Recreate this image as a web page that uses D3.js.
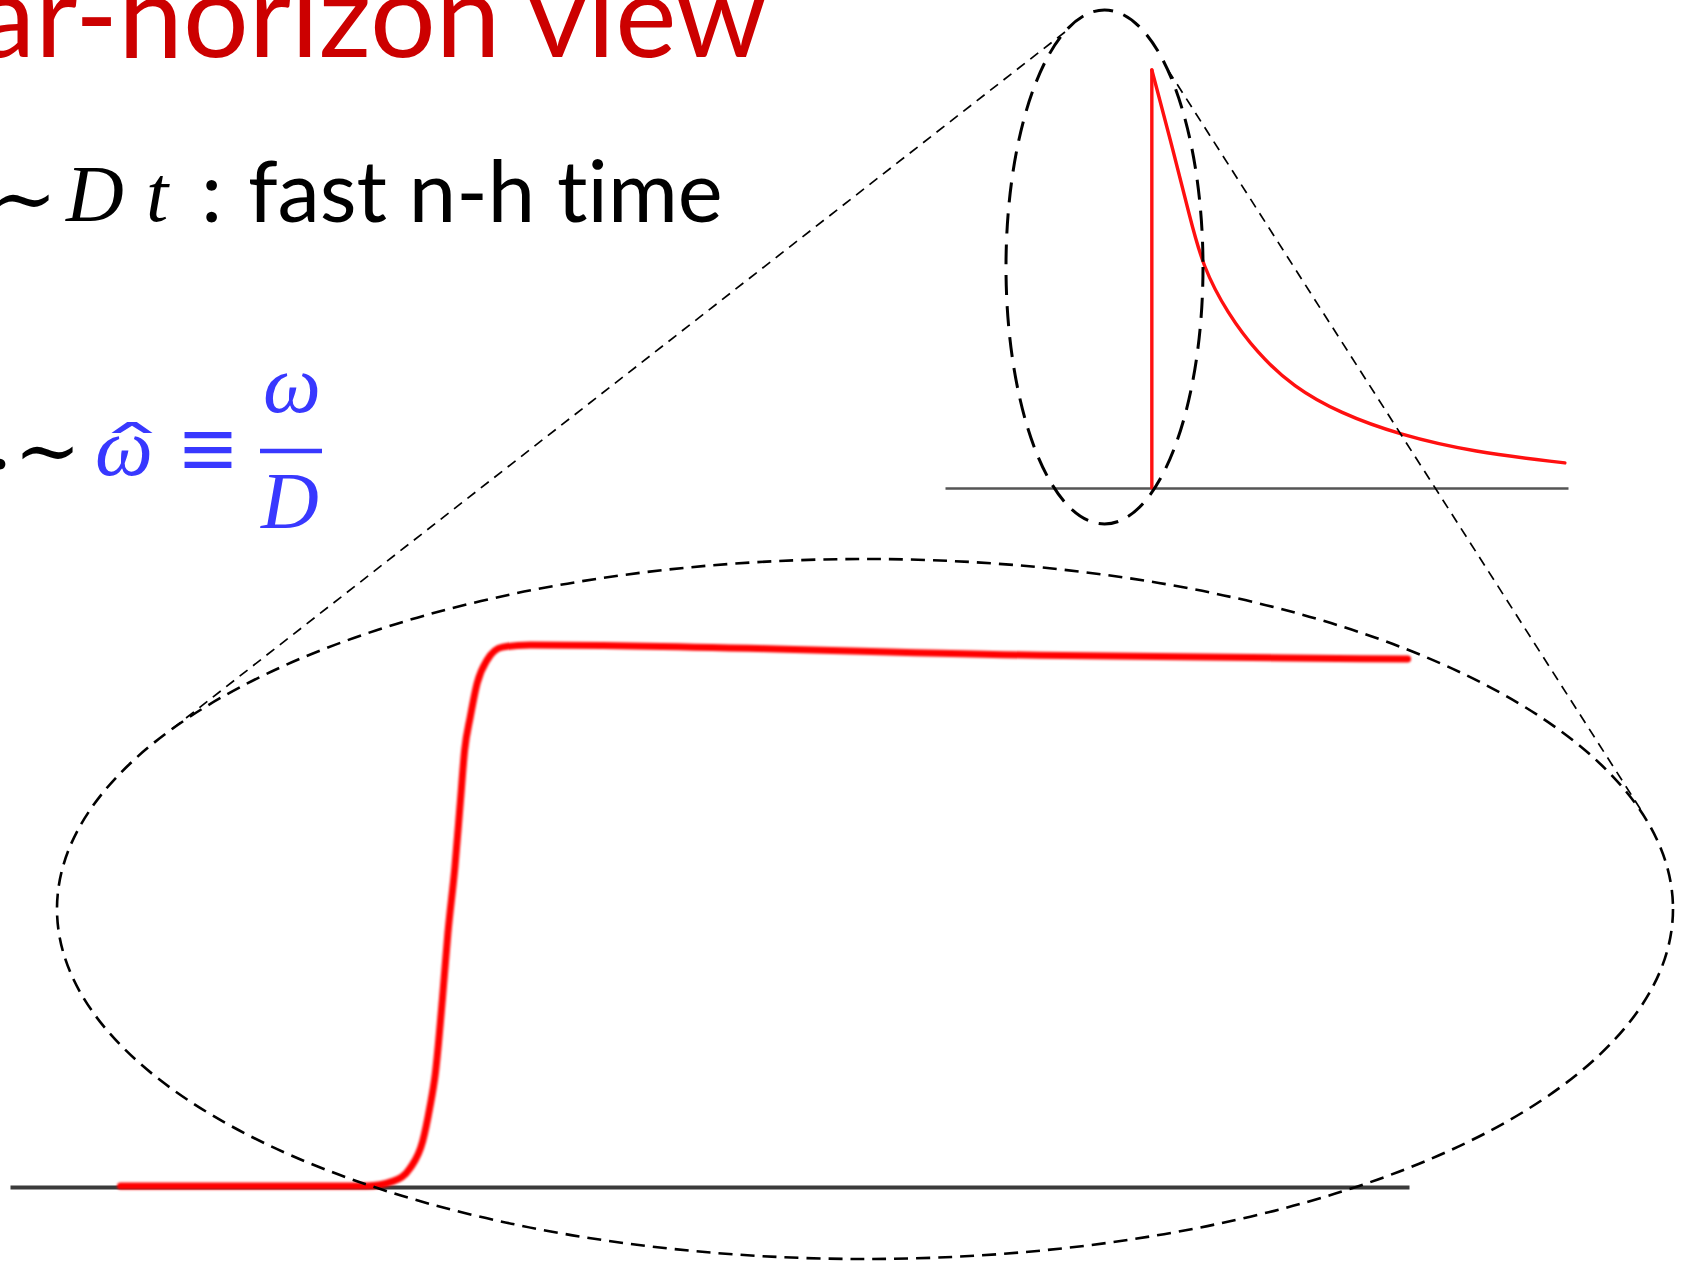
<!DOCTYPE html>
<html>
<head>
<meta charset="utf-8">
<script src="https://cdn.jsdelivr.net/npm/d3@7"></script>
<style>
  html, body { margin: 0; padding: 0; background: #fff; }
  svg { display: block; }
  text { font-variant-ligatures: none; font-feature-settings: "liga" 0; }
</style>
</head>
<body>
<div id="chart"></div>
<script>
// Near-horizon response: a sharp step (zoomed view) inside a pulse that decays (full view)

// Zoomed-in response: time and amplitude samples
const stepTime  = [7.9, 25.5, 27.4, 28.6, 29.5, 30.0, 30.4, 30.9, 31.3, 31.8, 32.2, 32.5, 32.9, 33.4, 34.1, 35.2, 37.2, 73.6, 99.9];
const stepValue = [0, 0, 0.009, 0.033, 0.083, 0.144, 0.207, 0.343, 0.467, 0.589, 0.713, 0.806, 0.867, 0.930, 0.972, 0.996, 1.0, 0.981, 0.974];

// Full view: onset time, then the decaying tail
const onsetTime  = 33.2;
const decayTime  = [33.2, 36.6, 39.3, 41.4, 45.3, 50.1, 55.9, 63.4, 73.0, 84.8, 99.5];
const decayValue = [1.0, 0.809, 0.648, 0.529, 0.419, 0.323, 0.242, 0.179, 0.127, 0.086, 0.060];

// Text
const titleText = "Near-horizon view";
const line2Text = "fast n-h time";

const W = 1687, H = 1262;
const svg = d3.select("#chart").append("svg")
  .attr("width", W).attr("height", H)
  .attr("viewBox", `0 0 ${W} ${H}`);

svg.append("rect").attr("width", W).attr("height", H).attr("fill", "#fff");

const defs = svg.append("defs");
defs.append("filter").attr("id", "soft")
  .attr("filterUnits", "userSpaceOnUse")
  .attr("x", 0).attr("y", 0).attr("width", W).attr("height", H)
  .append("feGaussianBlur").attr("stdDeviation", 0.9);

// ---------- Text block ----------
const red = "#cc0000", blue = "#3838ff";
const sans = "Lato, 'Open Sans', sans-serif";
const serif = "'Liberation Serif', 'DejaVu Serif', serif";

svg.append("text")
  .attr("x", 767).attr("y", 57)
  .attr("text-anchor", "end")
  .attr("font-family", sans).attr("font-size", 116)
  .attr("fill", red)
  .text(titleText);

// line 2:  ~ D t : fast n-h time
const l2 = svg.append("g").attr("fill", "#000");
l2.append("text").attr("x", -10).attr("y", 226)
  .attr("font-family", "'DejaVu Serif', serif").attr("font-size", 80)
  .text("\u223C");
l2.append("text").attr("x", 66).attr("y", 221)
  .attr("font-family", serif).attr("font-style", "italic").attr("font-size", 80)
  .text("D");
l2.append("text").attr("x", 146).attr("y", 221)
  .attr("font-family", serif).attr("font-style", "italic").attr("font-size", 80)
  .text("t");
l2.append("text").attr("x", 201).attr("y", 222)
  .attr("font-family", sans).attr("font-size", 85)
  .text(":");
l2.append("text").attr("x", 248).attr("y", 222)
  .attr("font-family", sans).attr("font-size", 85)
  .text(line2Text);

// line 3:  . ~ ω̂ ≡ ω / D
const l3 = svg.append("g");
l3.append("text").attr("x", -10).attr("y", 469)
  .attr("font-family", sans).attr("font-size", 85).attr("fill", "#000")
  .text(".");
l3.append("text").attr("x", 14).attr("y", 478)
  .attr("font-family", "'DejaVu Serif', serif").attr("font-size", 80).attr("fill", "#000")
  .text("\u223C");
l3.append("text").attr("x", 95).attr("y", 475)
  .attr("font-family", serif).attr("font-style", "italic").attr("font-size", 82).attr("fill", blue)
  .text("\u03C9");
// wide hat over ω
l3.append("text")
  .attr("transform", "translate(99,470) scale(2.2,1)")
  .attr("font-family", "'DejaVu Sans', sans-serif").attr("font-size", 60).attr("fill", blue)
  .text("\u02C6");
// identity sign
l3.append("text")
  .attr("x", 208).attr("y", 475)
  .attr("text-anchor", "middle")
  .attr("font-family", "'Noto Sans CJK JP', 'DejaVu Sans', sans-serif")
  .attr("font-size", 66).attr("font-weight", 700).attr("fill", blue)
  .text("\u2261");
l3.append("text").attr("x", 263).attr("y", 412)
  .attr("font-family", serif).attr("font-style", "italic").attr("font-size", 82).attr("fill", blue)
  .text("\u03C9");
l3.append("line").attr("x1", 260).attr("x2", 322).attr("y1", 451).attr("y2", 451)
  .attr("stroke", blue).attr("stroke-width", 4.5);
l3.append("text").attr("x", 261).attr("y", 528)
  .attr("font-family", serif).attr("font-style", "italic").attr("font-size", 80).attr("fill", blue)
  .text("D");

// ---------- Full view (top right) ----------
const xS = d3.scaleLinear().domain([0, 100]).range([945, 1568]);
const yS = d3.scaleLinear().domain([0, 1]).range([488, 70]);

const axS = svg.append("g").attr("transform", `translate(0,${yS(0)})`)
  .call(d3.axisBottom(xS).tickValues([]).tickSizeOuter(0));
axS.select(".domain").attr("stroke", "#555").attr("stroke-width", 2.5);

const redS = svg.append("g").attr("fill", "none").attr("stroke", "#ff1010")
  .attr("stroke-width", 3.4).attr("stroke-linecap", "round");
redS.append("line")
  .attr("x1", xS(onsetTime)).attr("x2", xS(onsetTime))
  .attr("y1", yS(0)).attr("y2", yS(1));
redS.append("path")
  .datum(decayTime.map((t, i) => [t, decayValue[i]]))
  .attr("d", d3.line().x(d => xS(d[0])).y(d => yS(d[1])).curve(d3.curveBasis));

// ---------- Zoomed view (bottom) ----------
const xB = d3.scaleLinear().domain([0, 100]).range([10, 1409]);
const yB = d3.scaleLinear().domain([0, 1]).range([1186, 645]);

const axB = svg.append("g").attr("transform", `translate(0,${yB(0) + 1})`)
  .call(d3.axisBottom(xB).tickValues([]).tickSizeOuter(0));
axB.select(".domain").attr("stroke", "#2a2a2a").attr("stroke-width", 4)
  .attr("stroke-opacity", 0.92);

svg.append("path")
  .datum(stepTime.map((t, i) => [t, stepValue[i]]))
  .attr("fill", "none").attr("stroke", "#ff0000").attr("stroke-width", 7)
  .attr("stroke-linecap", "round").attr("stroke-linejoin", "round")
  .attr("filter", "url(#soft)")
  .attr("d", d3.line().x(d => xB(d[0])).y(d => yB(d[1])).curve(d3.curveMonotoneX));

// ---------- Zoom callout: ellipses and connecting lines ----------
const callout = svg.append("g").attr("fill", "none").attr("stroke", "#000");
callout.append("ellipse")
  .attr("cx", 1104.5).attr("cy", 267).attr("rx", 98.5).attr("ry", 257)
  .attr("stroke-width", 3).attr("stroke-dasharray", "20,11");
callout.append("ellipse")
  .attr("cx", 865).attr("cy", 909).attr("rx", 808).attr("ry", 350)
  .attr("stroke-width", 2.6).attr("stroke-dasharray", "14,8");
callout.append("line")
  .attr("x1", 1065).attr("y1", 32).attr("x2", 172).attr("y2", 729)
  .attr("stroke-width", 1.7).attr("stroke-dasharray", "10,7");
callout.append("line")
  .attr("x1", 1168).attr("y1", 70).attr("x2", 1641).attr("y2", 810)
  .attr("stroke-width", 1.7).attr("stroke-dasharray", "10,7");
</script>
</body>
</html>
